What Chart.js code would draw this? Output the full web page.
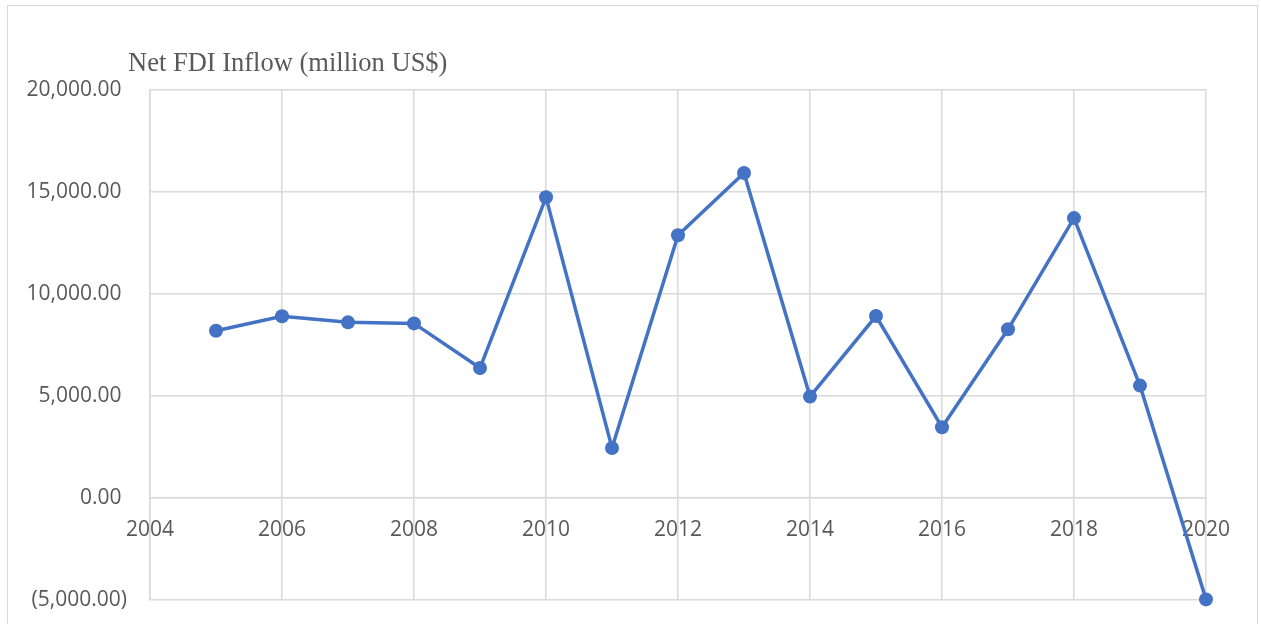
<!DOCTYPE html>
<html>
<head>
<meta charset="utf-8">
<script src="https://cdn.jsdelivr.net/npm/chart.js@4.4.0/dist/chart.umd.min.js"></script>
<style>
    body { margin: 0; background: #fff; overflow: hidden; }
    #frame { position: absolute; left: 7px; top: 5px; width: 1251px; height: 700px; border: 1.5px solid #d9d9d9; box-sizing: border-box; }
    #wrap { position: absolute; left: 0; top: 0; width: 1261px; height: 624px; }
</style>
</head>
<body>
<div id="frame"></div>
<div id="wrap"><canvas id="chartFdi"></canvas></div>
<script>
var years = [2005, 2006, 2007, 2008, 2009, 2010, 2011, 2012, 2013, 2014, 2015, 2016, 2017, 2018, 2019, 2020];
var fdiInflow = [8200, 8910, 8610, 8560, 6370, 14740, 2450, 12880, 15930, 4970, 8920, 3470, 8270, 13720, 5510, -4970];
var chartTitle = "Net FDI Inflow (million US$)";

function byId(id){ return document.getElementById(id); }

function fmtMoney(v){
    var s = Math.abs(v).toLocaleString("en-US", {minimumFractionDigits: 2, maximumFractionDigits: 2});
    return v < 0 ? "(" + s + ")" : s + " ";
}

var titlePlugin = {
    id: 'fdiTitle',
    afterDraw: function(chart){
        var ctx = chart.ctx;
        ctx.save();
        ctx.font = "26.5px 'Liberation Serif', 'Times New Roman', serif";
        ctx.fillStyle = "#595959";
        ctx.textBaseline = "alphabetic";
        ctx.textAlign = "left";
        ctx.fillText(chartTitle, 128, 71);
        ctx.restore();
    }
};

var fdiData = {
    datasets: [
        {
            label: chartTitle,
            data: years.map(function(y, i){ return {x: y, y: fdiInflow[i]}; }),
            borderColor: "#4472C4",
            backgroundColor: "#4472C4",
            borderWidth: 3.5,
            lineTension: 0,
            fill: false,
            pointRadius: 7,
            pointBorderWidth: 0,
            pointBackgroundColor: "#4472C4",
            clip: false
        }
    ]
};

var tickFont = {family: "'Open Sans', 'Noto Sans', sans-serif", size: 21};

new Chart(byId("chartFdi").getContext("2d"), {
    type: 'line',
    data: fdiData,
    plugins: [titlePlugin],
    options: {
        responsive: true,
        maintainAspectRatio: false,
        animation: false,
        layout: {padding: {left: 0, right: 55, top: 90, bottom: 24}},
        plugins: {legend: {display: false}, tooltip: {enabled: false}},
        scales: {
            x: {
                type: 'linear',
                position: {y: 0},
                min: 2004,
                max: 2020,
                afterFit: function(scale){ scale.height = 0; },
                grid: {color: "#d9d9d9", lineWidth: 1.5, drawTicks: false},
                border: {color: "#d9d9d9", width: 1.5},
                ticks: {
                    stepSize: 2,
                    padding: 19,
                    color: "#595959",
                    font: tickFont,
                    maxRotation: 0,
                    callback: function(v){ return String(v); }
                }
            },
            y: {
                min: -5000,
                max: 20000,
                afterFit: function(scale){
                    scale.width = 150;
                    scale.paddingTop = 0;
                    scale.paddingBottom = 0;
                },
                grid: {color: "#d9d9d9", lineWidth: 1.5, drawTicks: false},
                border: {color: "#d9d9d9", width: 1.5},
                ticks: {
                    stepSize: 5000,
                    padding: 23,
                    color: "#595959",
                    font: tickFont,
                    callback: function(v){ return fmtMoney(v); }
                }
            }
        }
    }
});
</script>
</body>
</html>
